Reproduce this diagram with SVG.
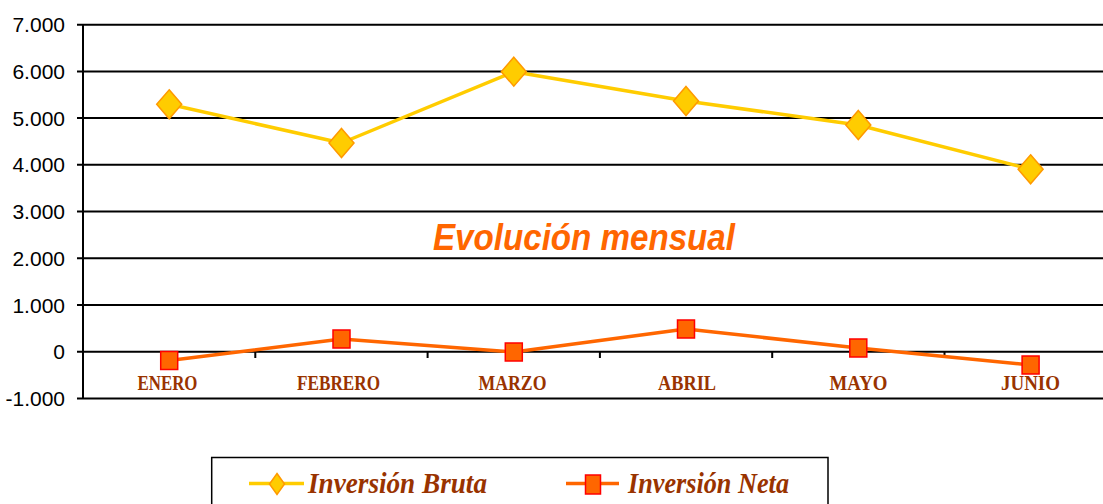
<svg xmlns="http://www.w3.org/2000/svg" width="1103" height="504" viewBox="0 0 1103 504">
<style>
.grid{stroke:#000;stroke-width:2;fill:none}
.ylab{font-family:"Liberation Sans",Arial,sans-serif;font-size:21px;fill:#000;text-anchor:end}
.xlab{font-family:"Liberation Serif","Times New Roman",serif;font-size:22px;font-weight:bold;fill:#993300;text-anchor:middle}
.leg{font-family:"Liberation Serif","Times New Roman",serif;font-size:30px;font-weight:bold;font-style:italic;fill:#993300}
.bruta{stroke:#FFCC00;stroke-width:3.5;fill:none;stroke-linejoin:round}
.neta{stroke:#FF6600;stroke-width:3.5;fill:none;stroke-linejoin:round}
.dia{fill:#FFCC00;stroke:#FF9900;stroke-width:1.5}
.sq{fill:#FF6600;stroke:#FF0000;stroke-width:1.5}
</style>
<rect width="1103" height="504" fill="#fff"/>
<g id="axes">
<path class="grid" d="M77 24.7H1103M77 71.4H1103M77 118.1H1103M77 164.8H1103M77 211.5H1103M77 258.3H1103M77 305H1103M77 351.7H1103M77 398.5H1103M83 24V399.5"/>
<path class="grid" d="M255.3 351.7V358M427.6 351.7V358M599.9 351.7V358M772.2 351.7V358M944.5 351.7V358"/>
<text class="ylab" x="65" y="32.3">7.000</text>
<text class="ylab" x="65" y="79">6.000</text>
<text class="ylab" x="65" y="125.7">5.000</text>
<text class="ylab" x="65" y="172.4">4.000</text>
<text class="ylab" x="65" y="219.1">3.000</text>
<text class="ylab" x="65" y="265.9">2.000</text>
<text class="ylab" x="65" y="312.6">1.000</text>
<text class="ylab" x="65" y="359.3">0</text>
<text class="ylab" x="65" y="406.1">-1.000</text>
<text class="xlab" x="167.5" y="390" textLength="60" lengthAdjust="spacingAndGlyphs">ENERO</text>
<text class="xlab" x="338.5" y="390" textLength="83" lengthAdjust="spacingAndGlyphs">FEBRERO</text>
<text class="xlab" x="512.5" y="390" textLength="68" lengthAdjust="spacingAndGlyphs">MARZO</text>
<text class="xlab" x="687" y="390" textLength="58" lengthAdjust="spacingAndGlyphs">ABRIL</text>
<text class="xlab" x="858.5" y="390" textLength="58" lengthAdjust="spacingAndGlyphs">MAYO</text>
<text class="xlab" x="1030.5" y="390" textLength="59" lengthAdjust="spacingAndGlyphs">JUNIO</text>
</g>
<g id="title">
<text x="433" y="249.5" font-family="'Liberation Sans',Arial,sans-serif" font-size="36" font-weight="bold" font-style="italic" fill="#FF6600" textLength="302" lengthAdjust="spacingAndGlyphs">Evolución mensual</text>
</g>
<g id="connectors">
<polyline class="bruta" points="169.2,104.3 341.5,143 513.8,71.7 686,101 858.3,125 1030.6,169.3"/>
<polyline class="neta" points="169.2,360.5 341.5,339 513.8,352 686,329 858.3,348 1030.6,365"/>
</g>
<g id="bruta-markers">
<path class="dia" d="M169.2 89.8l12.5 14.5l-12.5 14.5l-12.5 -14.5z"/>
<path class="dia" d="M341.5 128.5l12.5 14.5l-12.5 14.5l-12.5 -14.5z"/>
<path class="dia" d="M513.8 57.2l12.5 14.5l-12.5 14.5l-12.5 -14.5z"/>
<path class="dia" d="M686 86.5l12.5 14.5l-12.5 14.5l-12.5 -14.5z"/>
<path class="dia" d="M858.3 110.5l12.5 14.5l-12.5 14.5l-12.5 -14.5z"/>
<path class="dia" d="M1030.6 154.8l12.5 14.5l-12.5 14.5l-12.5 -14.5z"/>
</g>
<g id="neta-markers">
<rect class="sq" x="160.7" y="351.5" width="17" height="18"/>
<rect class="sq" x="333" y="330" width="17" height="18"/>
<rect class="sq" x="505.3" y="343" width="17" height="18"/>
<rect class="sq" x="677.5" y="320" width="17" height="18"/>
<rect class="sq" x="849.8" y="339" width="17" height="18"/>
<rect class="sq" x="1022.1" y="356" width="17" height="18"/>
</g>
<g id="legend">
<path d="M211.7 510V457.5H828V510" fill="none" stroke="#000" stroke-width="1.5"/>
<line x1="249" y1="483.5" x2="304" y2="483.5" class="bruta"/>
<path class="dia" d="M277 473.5l7.5 10.5l-7.5 10.5l-7.5 -10.5z"/>
<text class="leg" x="308" y="493" textLength="179" lengthAdjust="spacingAndGlyphs">Inversión Bruta</text>
<line x1="566" y1="483.5" x2="619" y2="483.5" class="neta"/>
<rect class="sq" x="585.5" y="475" width="15" height="19"/>
<text class="leg" x="628" y="493" textLength="161" lengthAdjust="spacingAndGlyphs">Inversión Neta</text>
</g>
</svg>
